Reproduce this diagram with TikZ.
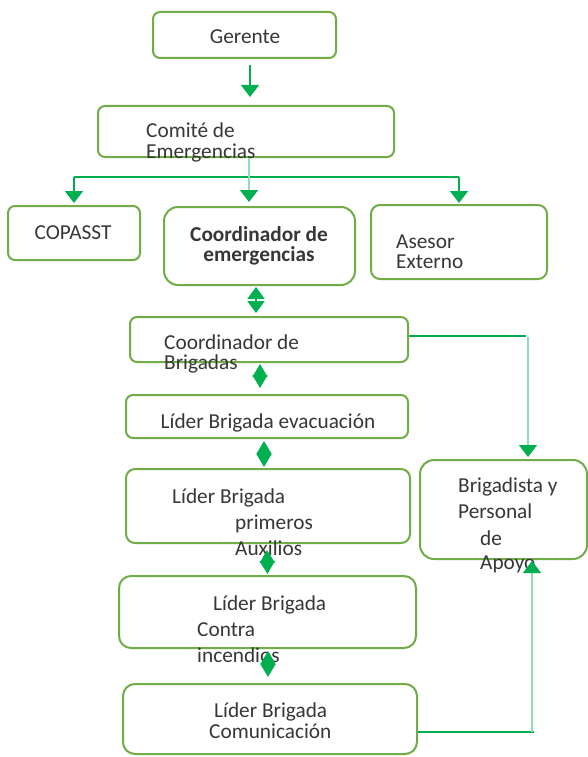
\documentclass[tikz,border=0pt]{standalone}
\usepackage{fontspec}
\setmainfont{Carlito}
\usetikzlibrary{arrows.meta,calc}
\definecolor{boxg}{RGB}{112,173,71}
\definecolor{arrg}{RGB}{0,176,80}
\definecolor{lightg}{RGB}{140,222,180}
\definecolor{txt}{RGB}{55,55,55}
\begin{document}
\begin{tikzpicture}[x=1pt,y=-1pt,
  bx/.style={draw=boxg, line width=2pt, rounded corners=7pt, anchor=north west, inner sep=0pt, fill=white},
  tx/.style={font=\fontsize{21.3}{24}\selectfont, text=txt, inner sep=0pt, anchor=base west},
  dk/.style={draw=arrg, line width=1.8pt},
  lt/.style={draw=lightg, line width=1.8pt},
  arr/.style={-{Triangle[length=12pt,width=18pt,color=arrg]}},
  dia/.style={draw=arrg, line width=1.5pt, {Triangle[length=13pt,width=15pt,color=arrg]}-{Triangle[length=13pt,width=15pt,color=arrg]}}
]
\useasboundingbox[fill=white] (0,0) rectangle (588,757);

% boxes
\node[bx, minimum width=183pt, minimum height=46pt] (ger) at (152,11) {};
\node[bx, minimum width=296pt, minimum height=51pt] (com) at (97,105) {};
\node[bx, minimum width=132pt, minimum height=54pt] (cop) at (7,205) {};
\node[bx, rounded corners=14pt, minimum width=191pt, minimum height=78pt] (cem) at (163,206) {};
\node[bx, rounded corners=9pt, minimum width=176pt, minimum height=74pt] (ase) at (370,204) {};
\node[bx, minimum width=278pt, minimum height=45pt] (cbr) at (129,316) {};
\node[bx, minimum width=282pt, minimum height=43pt] (lev) at (125,394) {};
\node[bx, rounded corners=9pt, minimum width=284pt, minimum height=74pt] (lpa) at (125,468) {};
\node[bx, rounded corners=14pt, minimum width=167pt, minimum height=99pt] (bri) at (419,459) {};
\node[bx, rounded corners=12pt, minimum width=297pt, minimum height=72pt] (lci) at (118,575) {};
\node[bx, rounded corners=12pt, minimum width=294pt, minimum height=70pt] (lco) at (122,683) {};

% texts
\node[tx, anchor=base] (tger) at (245,44) {Gerente};
\node[tx] (tcom1) at (146,138) {Comité de};
\node[tx] (tcom2) at (146,158) {Emergencias};
\node[tx, anchor=base] (tcop) at (73,239) {COPASST};
\node[tx, anchor=base, font=\fontsize{21.3}{24}\selectfont\bfseries] (tcem1) at (259,241) {Coordinador de};
\node[tx, anchor=base, font=\fontsize{21.3}{24}\selectfont\bfseries] (tcem2) at (259,261) {emergencias};
\node[tx] (tase1) at (396,248) {Asesor};
\node[tx] (tase2) at (396,268) {Externo};
\node[tx] (tcbr1) at (164,349) {Coordinador de};
\node[tx] (tcbr2) at (164,369) {Brigadas};
\node[tx, anchor=base] (tlev) at (268,428) {Líder Brigada evacuación};
\node[tx] (tlpa1) at (172,503) {Líder Brigada};
\node[tx] (tlpa2) at (235,529) {primeros};
\node[tx] (tlpa3) at (235,555) {Auxilios};
\node[tx] (tbri1) at (458,492) {Brigadista y};
\node[tx] (tbri2) at (458,518) {Personal};
\node[tx] (tbri3) at (480,545) {de};
\node[tx] (tbri4) at (480,569) {Apoyo};
\node[tx] (tlci1) at (213,610) {Líder Brigada};
\node[tx] (tlci2) at (197,636) {Contra};
\node[tx] (tlci3) at (197,662) {incendios};
\node[tx] (tlco1) at (214,717) {Líder Brigada};
\node[tx] (tlco2) at (209,738) {Comunicación};

% connectors
\draw[dk, arr] ($(ger.south)+(5.5,6)$) -- ($(com.north)+(4,-8)$);
\coordinate (hub) at ($(com.south)+(3,19)$);
\draw[dk] (cop.north |- hub) -- (ase.north |- hub);
\draw[dk, arr] (cop.north |- hub) -- ($(cop.north)+(0,-2)$);
\draw[dk, arr] (ase.north |- hub) -- ($(ase.north)+(0,-1)$);
\draw[lt, arr] ($(com.south)+(3,0)$) -- ($(cem.north)+(-10.5,-4)$);

\draw[dk, {Triangle[length=12pt,width=17pt,color=arrg]}-{Triangle[length=12pt,width=17pt,color=arrg]}] ($(cem.south)+(-3.5,1)$) -- ($(cbr.north)+(-13,-3)$);
\draw[dia] ($(cbr.south)+(-9,1)$) -- ($(lev.north)+(-7,-6)$);
\draw[dia] ($(lev.south)+(-3,2)$) -- ($(lpa.north)+(-4,-1)$);
\draw[dia] ($(lpa.south)+(-1,6)$) -- ($(lci.north)+(0,-1)$);
\draw[dia] ($(lci.south)+(0.5,2)$) -- ($(lco.north)+(-2,-6)$);

\coordinate (k1) at (526,336);
\draw[dk] (cbr.east |- k1) -- (k1);
\draw[lt, arr] ($(k1)+(2,1)$) -- ($(bri.north -| k1)+(2,-2)$);
\coordinate (k2) at (534,732);
\draw[dk] (lco.east |- k2) -- (k2);
\draw[lt, arr] ($(k2)+(-2,0)$) -- ($(bri.south -| k2)+(-2,1)$);
\end{tikzpicture}
\end{document}
